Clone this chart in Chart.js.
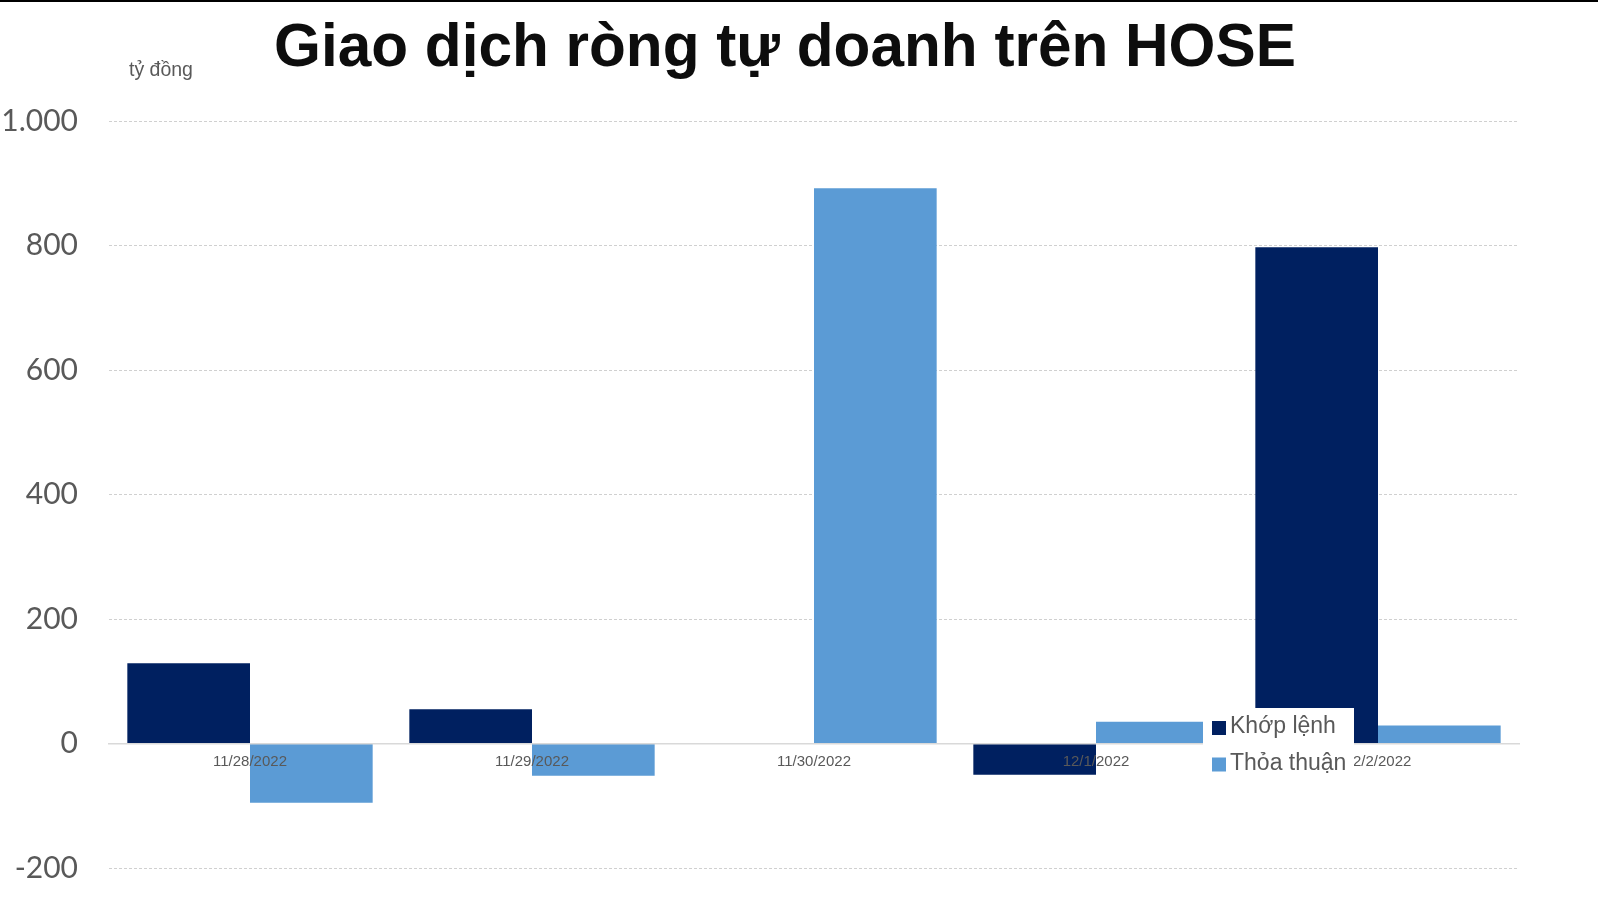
<!DOCTYPE html>
<html lang="vi">
<head>
<meta charset="utf-8">
<title>Giao dịch ròng tự doanh trên HOSE</title>
<script src="https://cdn.jsdelivr.net/npm/chart.js@4.4.0/dist/chart.umd.min.js"></script>
<style>
    body { margin: 0; background: #fff; }
    #wrap { position: relative; width: 1598px; height: 900px; }
</style>
</head>
<body>
<div id="wrap"><canvas id="chart"></canvas></div>
<script>
// data (tỷ đồng)
const categories = ['11/28/2022', '11/29/2022', '11/30/2022', '12/1/2022', '12/2/2022'];
const khopLenh = [129, 55, 0, -50, 797];
const thoaThuan = [-95, -52, 892, 35, 29];
const seriesNames = ['Khớp lệnh', 'Thỏa thuận'];
const yMin = -200;
const yMax = 1000;
const yStep = 200;

const chartTitle = 'Giao dịch ròng tự doanh trên HOSE';
const unitLabel = 'tỷ đồng';

function formatVN(v) {
    return String(v).replace(/\B(?=(\d{3})+(?!\d))/g, '.');
}

const decorPlugin = {
    id: 'decor',
    beforeDraw(chart) {
        const ctx = chart.ctx;
        ctx.save();
        // thin black rule at the very top
        ctx.fillStyle = '#000';
        ctx.fillRect(0, 0, chart.width, 2);
        // title
        ctx.fillStyle = '#0d0d0d';
        ctx.font = 'bold 60.3px "Liberation Sans", Arial, sans-serif';
        ctx.textAlign = 'center';
        ctx.textBaseline = 'alphabetic';
        ctx.fillText(chartTitle, 785, 66);
        // unit
        ctx.fillStyle = '#595959';
        ctx.font = '19.5px "Liberation Sans", Arial, sans-serif';
        ctx.textAlign = 'left';
        ctx.fillText(unitLabel, 129, 76);
        ctx.restore();
    },
    afterDraw(chart) {
        // legend box sitting inside the plot, over the bars
        const ctx = chart.ctx;
        ctx.save();
        ctx.fillStyle = '#fff';
        ctx.fillRect(1203, 708, 151, 80);
        ctx.font = '23px "Liberation Sans", Arial, sans-serif';
        ctx.textBaseline = 'middle';
        ctx.textAlign = 'left';
        chart.data.datasets.forEach((ds, i) => {
            const y = 727 + i * 36.5;
            ctx.fillStyle = ds.backgroundColor;
            ctx.fillRect(1212, y - 6, 14, 14);
            ctx.fillStyle = '#595959';
            ctx.fillText(ds.label, 1230, y);
        });
        ctx.restore();
    }
};

const ctx = document.getElementById('chart').getContext('2d');
new Chart(ctx, {
    type: 'bar',
    data: {
        labels: categories,
        datasets: [{
            label: seriesNames[0],
            data: khopLenh,
            backgroundColor: '#002060'
        }, {
            label: seriesNames[1],
            data: thoaThuan,
            backgroundColor: '#5b9bd5'
        }]
    },
    options: {
        responsive: true,
        maintainAspectRatio: false,
        animation: false,
        layout: {
            padding: { top: 121, bottom: 32, left: 0, right: 79 }
        },
        datasets: {
            bar: { barPercentage: 1.0, categoryPercentage: 0.87 }
        },
        plugins: {
            legend: { display: false },
            title: { display: false },
            tooltip: { enabled: false }
        },
        scales: {
            x: {
                position: { y: 0 },
                afterFit(scale) { scale.height = 0; },
                grid: { display: false, drawTicks: false },
                border: { display: true, color: '#d9d9d9', width: 1.5, z: 1 },
                ticks: {
                    z: 1,
                    color: '#595959',
                    font: { family: '"Liberation Sans", Arial, sans-serif', size: 15 },
                    padding: 9,
                    maxRotation: 0,
                    autoSkip: false
                }
            },
            y: {
                min: yMin,
                max: yMax,
                afterFit(scale) {
                    scale.width = 109;
                    // tick padding would otherwise push the plot up from the bottom
                    scale.paddingTop = 0;
                    scale.paddingBottom = 0;
                },
                grid: { color: '#d0d0d0', lineWidth: 1, drawTicks: false },
                border: { display: false, dash: [3, 2] },
                ticks: {
                    stepSize: yStep,
                    color: '#595959',
                    padding: 31,
                    font: { family: 'Lato, "Open Sans", sans-serif', size: 30 },
                    callback: v => formatVN(v)
                }
            }
        }
    },
    plugins: [decorPlugin]
});
</script>
</body>
</html>
